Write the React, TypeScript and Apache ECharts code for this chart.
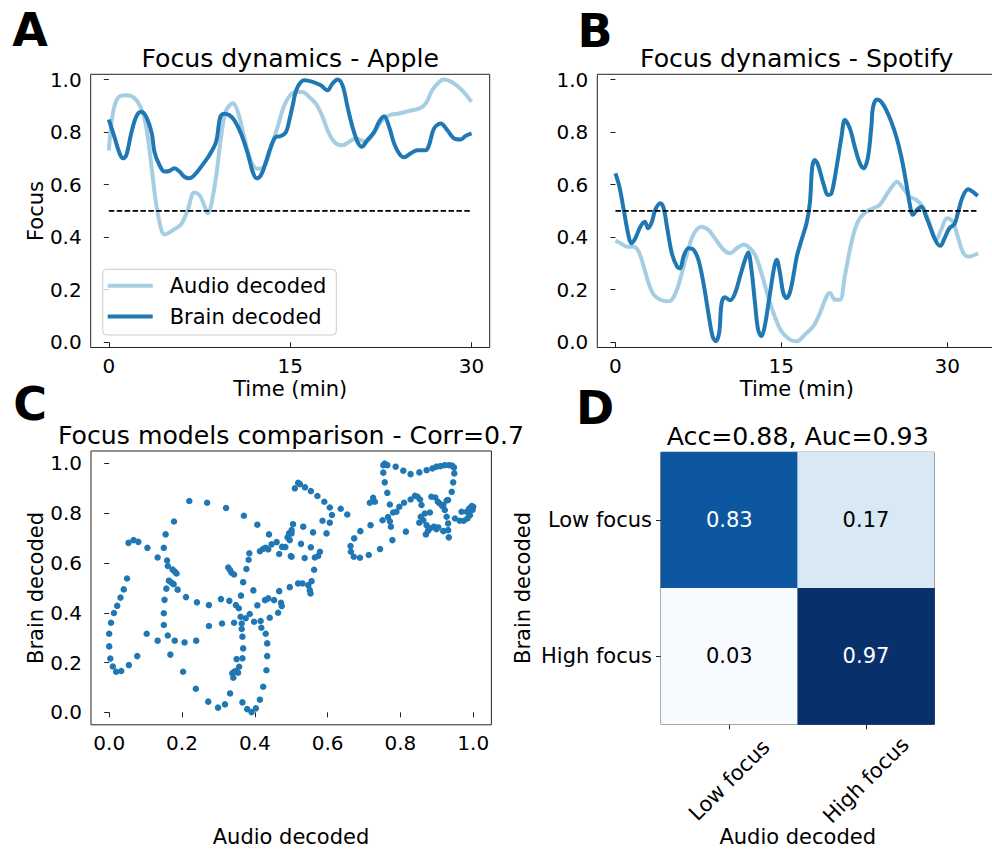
import React, { useEffect, useRef } from "react";
import * as echarts from "echarts";

const FONT = "DejaVu Sans";
const AUDIO_COLOR = "#a6cee3";
const BRAIN_COLOR = "#1f78b4";
const SCATTER_COLOR = "#1f77b4";
const SPINE = "#222222";

// Focus over time, [minute, focus]
const appleAudio: [number, number][] = [
  [0, 0.73], [0.33, 0.87], [0.75, 0.93], [1.43, 0.94], [2.1, 0.93], [2.67, 0.89], [3.09, 0.82],
  [3.5, 0.68], [3.9, 0.53], [4.33, 0.43], [4.6, 0.41], [5.4, 0.43], [6.0, 0.45], [6.5, 0.5],
  [7.07, 0.57], [7.5, 0.56], [7.9, 0.52], [8.2, 0.49], [8.45, 0.52], [8.87, 0.63], [9.28, 0.78],
  [9.69, 0.88], [10.24, 0.91], [10.65, 0.88], [11.2, 0.78], [11.76, 0.69], [12.3, 0.66],
  [12.86, 0.67], [13.4, 0.74], [13.96, 0.82], [14.5, 0.9], [15.0, 0.94], [15.47, 0.953],
  [16.02, 0.953], [16.57, 0.934], [17.12, 0.908], [17.68, 0.858], [18.2, 0.795], [18.78, 0.757],
  [19.33, 0.75], [19.88, 0.763], [20.43, 0.776], [21.25, 0.763], [21.8, 0.788], [22.5, 0.839],
  [23.2, 0.864], [24.0, 0.871], [24.8, 0.88], [25.7, 0.89], [26.2, 0.908], [26.76, 0.96],
  [27.3, 0.99], [27.7, 1.0], [28.4, 0.99], [29.2, 0.96], [30.0, 0.915],
];

const appleBrain: [number, number][] = [
  [0, 0.848], [0.47, 0.78], [0.88, 0.72], [1.16, 0.7], [1.43, 0.71], [1.85, 0.795], [2.26, 0.858],
  [2.67, 0.877], [3.09, 0.858], [3.55, 0.795], [3.77, 0.725], [4.18, 0.675], [4.6, 0.65],
  [5.0, 0.652], [5.42, 0.662], [5.84, 0.65], [6.25, 0.63], [6.66, 0.624], [7.07, 0.636],
  [7.63, 0.668], [8.31, 0.712], [8.87, 0.763], [9.22, 0.858], [9.55, 0.87], [9.97, 0.864],
  [10.38, 0.845], [10.93, 0.795], [11.48, 0.72], [11.89, 0.65], [12.22, 0.624], [12.58, 0.636],
  [13.0, 0.687], [13.4, 0.744], [13.82, 0.782], [14.23, 0.785], [14.65, 0.8], [14.95, 0.85],
  [15.2, 0.9], [15.55, 0.965], [16.16, 0.997], [16.85, 0.991], [17.53, 0.978], [18.08, 0.959],
  [18.5, 0.985], [18.91, 1.0], [19.33, 0.978], [19.74, 0.896], [20.15, 0.82], [20.57, 0.763],
  [20.92, 0.744], [21.39, 0.77], [21.94, 0.8], [22.35, 0.839], [22.77, 0.86], [23.18, 0.82],
  [23.59, 0.757], [24.0, 0.719], [24.41, 0.704], [24.97, 0.719], [25.52, 0.731], [26.2, 0.731],
  [26.48, 0.75], [26.9, 0.814], [27.45, 0.833], [28.0, 0.807], [28.55, 0.776], [29.1, 0.772],
  [29.5, 0.785], [30.0, 0.795],
];

const spotifyAudio: [number, number][] = [
  [0, 0.387], [0.45, 0.377], [1.05, 0.364], [1.65, 0.364], [2.1, 0.345], [2.55, 0.289], [3.0, 0.225],
  [3.46, 0.181], [4.06, 0.162], [4.66, 0.156], [5.1, 0.162], [5.56, 0.2], [6.0, 0.263],
  [6.46, 0.333], [6.9, 0.396], [7.36, 0.43], [7.8, 0.44], [8.4, 0.428], [9.0, 0.396],
  [9.77, 0.352], [10.37, 0.339], [10.97, 0.358], [11.57, 0.371], [12.0, 0.364], [12.62, 0.333],
  [13.2, 0.263], [13.8, 0.175], [14.4, 0.099], [15.0, 0.042], [15.78, 0.01], [16.4, 0.004],
  [17.13, 0.029], [17.9, 0.061], [18.5, 0.112], [19.1, 0.175], [19.4, 0.187], [19.84, 0.162],
  [20.3, 0.162], [20.74, 0.251], [21.2, 0.352], [21.64, 0.428], [22.1, 0.472], [22.7, 0.497],
  [23.3, 0.51], [23.9, 0.523], [24.5, 0.561], [25.1, 0.598], [25.46, 0.611], [26.0, 0.586],
  [26.6, 0.554], [27.2, 0.542], [27.8, 0.516], [28.4, 0.453], [29.0, 0.39], [29.45, 0.428],
  [30.0, 0.472], [30.5, 0.459], [30.96, 0.402], [31.4, 0.345], [31.9, 0.326], [32.8, 0.339],
];

const spotifyBrain: [number, number][] = [
  [0, 0.643], [0.36, 0.592], [0.75, 0.504], [1.2, 0.402], [1.44, 0.377], [1.8, 0.396], [2.25, 0.44],
  [2.65, 0.459], [2.95, 0.434], [3.3, 0.459], [3.6, 0.504], [4.06, 0.529], [4.36, 0.51],
  [4.66, 0.44], [5.1, 0.339], [5.56, 0.289], [5.86, 0.282], [6.16, 0.326], [6.6, 0.358],
  [7.06, 0.352], [7.5, 0.314], [7.96, 0.225], [8.4, 0.112], [8.78, 0.023], [9.08, 0.004],
  [9.38, 0.036], [9.6, 0.149], [9.9, 0.171], [10.37, 0.16], [10.82, 0.187], [11.27, 0.251],
  [11.72, 0.314], [12.0, 0.342], [12.3, 0.276], [12.62, 0.149], [12.9, 0.048], [13.2, 0.023],
  [13.5, 0.061], [13.98, 0.187], [14.37, 0.289], [14.58, 0.314], [14.88, 0.263], [15.18, 0.187],
  [15.48, 0.168], [15.78, 0.19], [16.08, 0.25], [16.4, 0.326], [16.83, 0.39], [17.28, 0.453],
  [17.58, 0.529], [17.8, 0.668], [18.03, 0.694], [18.33, 0.674], [18.8, 0.605], [19.24, 0.561],
  [19.54, 0.567], [20.0, 0.668], [20.44, 0.782], [20.74, 0.846], [21.2, 0.814], [21.64, 0.744],
  [22.1, 0.681], [22.45, 0.662], [22.84, 0.706], [23.14, 0.82], [23.3, 0.896], [23.65, 0.924],
  [24.04, 0.915], [24.5, 0.883], [24.95, 0.839], [25.4, 0.782], [25.85, 0.706], [26.3, 0.605],
  [26.6, 0.529], [26.9, 0.485], [27.26, 0.504], [27.65, 0.516], [28.1, 0.478], [28.55, 0.428],
  [29.0, 0.383], [29.37, 0.367], [29.76, 0.396], [30.2, 0.434], [30.66, 0.45], [30.96, 0.491],
  [31.4, 0.554], [31.9, 0.582], [32.3, 0.573], [32.76, 0.557],
];

const focusThreshold = 0.5;
const appleDuration = 30;
const spotifyDuration = 32.8;

const timeTicks = [0, 15, 30];
const focusTicks = [0, 0.2, 0.4, 0.6, 0.8, 1.0];
const comparisonTicks = [0, 0.2, 0.4, 0.6, 0.8, 1.0];

// Model comparison, [audio decoded, brain decoded]
const focusPairs: [number, number][] = [
  [0.22, 0.849], [0.269, 0.842], [0.321, 0.821], [0.37, 0.79], [0.407, 0.754], [0.439, 0.715],
  [0.178, 0.767], [0.155, 0.715], [0.053, 0.681], [0.067, 0.692], [0.08, 0.685], [0.105, 0.661],
  [0.15, 0.661], [0.133, 0.622], [0.159, 0.61], [0.161, 0.588], [0.174, 0.574], [0.18, 0.566],
  [0.185, 0.558], [0.049, 0.538], [0.04, 0.494], [0.031, 0.461], [0.022, 0.428], [0.013, 0.399],
  [0.005, 0.36], [0.0, 0.316], [0.0, 0.265], [0.003, 0.216], [0.01, 0.184], [0.019, 0.163],
  [0.033, 0.166], [0.054, 0.19], [0.077, 0.226], [0.103, 0.316], [0.133, 0.288], [0.161, 0.309],
  [0.18, 0.288], [0.207, 0.281], [0.239, 0.288], [0.168, 0.232], [0.203, 0.163], [0.238, 0.095],
  [0.272, 0.043], [0.299, 0.019], [0.318, 0.032], [0.332, 0.076], [0.366, 0.04], [0.379, 0.013],
  [0.391, 0.001], [0.403, 0.016], [0.414, 0.051], [0.423, 0.103], [0.432, 0.169], [0.434, 0.226],
  [0.434, 0.277], [0.43, 0.316], [0.418, 0.34], [0.416, 0.367], [0.398, 0.364], [0.386, 0.395],
  [0.375, 0.378], [0.364, 0.357], [0.361, 0.384], [0.364, 0.335], [0.366, 0.304], [0.368, 0.257],
  [0.366, 0.217], [0.35, 0.214], [0.357, 0.183], [0.343, 0.163], [0.338, 0.157], [0.341, 0.139],
  [0.354, 0.159], [0.348, 0.166], [0.348, 0.431], [0.356, 0.418], [0.343, 0.36], [0.31, 0.357],
  [0.274, 0.347], [0.274, 0.431], [0.241, 0.442], [0.211, 0.463], [0.188, 0.493], [0.157, 0.497],
  [0.152, 0.452], [0.15, 0.398], [0.15, 0.351], [0.164, 0.529], [0.171, 0.521], [0.177, 0.515],
  [0.307, 0.455], [0.33, 0.448], [0.362, 0.469], [0.368, 0.523], [0.396, 0.49], [0.407, 0.43],
  [0.428, 0.451], [0.437, 0.458], [0.453, 0.451], [0.472, 0.44], [0.474, 0.427], [0.464, 0.4],
  [0.441, 0.38], [0.467, 0.487], [0.496, 0.503], [0.327, 0.582], [0.332, 0.572], [0.336, 0.561],
  [0.343, 0.554], [0.377, 0.576], [0.383, 0.613], [0.385, 0.639], [0.414, 0.647], [0.423, 0.657],
  [0.43, 0.661], [0.437, 0.655], [0.446, 0.675], [0.46, 0.684], [0.475, 0.665], [0.484, 0.664],
  [0.49, 0.703], [0.494, 0.719], [0.501, 0.732], [0.505, 0.756], [0.499, 0.628], [0.467, 0.636],
  [0.51, 0.9], [0.519, 0.922], [0.524, 0.917], [0.538, 0.904], [0.554, 0.889], [0.572, 0.869],
  [0.591, 0.846], [0.606, 0.823], [0.612, 0.793], [0.606, 0.762], [0.586, 0.77], [0.597, 0.719],
  [0.56, 0.723], [0.533, 0.746], [0.501, 0.719], [0.496, 0.692], [0.527, 0.677], [0.554, 0.663],
  [0.579, 0.645], [0.574, 0.628], [0.565, 0.622], [0.537, 0.62], [0.501, 0.625], [0.636, 0.818],
  [0.654, 0.795], [0.563, 0.573], [0.556, 0.527], [0.547, 0.511], [0.531, 0.518], [0.519, 0.518],
  [0.551, 0.491], [0.553, 0.478], [0.716, 0.842], [0.725, 0.862], [0.73, 0.846], [0.69, 0.728],
  [0.673, 0.699], [0.663, 0.668], [0.664, 0.645], [0.672, 0.625], [0.689, 0.621], [0.713, 0.632],
  [0.744, 0.656], [0.778, 0.692], [0.815, 0.726], [0.718, 0.752], [0.751, 0.772], [0.766, 0.785],
  [0.771, 0.768], [0.774, 0.746], [0.78, 0.803], [0.789, 0.806], [0.797, 0.826], [0.81, 0.842],
  [0.828, 0.855], [0.84, 0.87], [0.847, 0.866], [0.854, 0.855], [0.858, 0.833], [0.856, 0.786],
  [0.852, 0.762], [0.863, 0.772], [0.867, 0.799], [0.872, 0.752], [0.87, 0.715], [0.876, 0.73],
  [0.881, 0.739], [0.892, 0.746], [0.899, 0.736], [0.904, 0.743], [0.918, 0.728], [0.931, 0.732],
  [0.933, 0.703], [0.931, 0.759], [0.927, 0.786], [0.922, 0.813], [0.915, 0.829], [0.903, 0.846],
  [0.885, 0.866], [0.896, 0.863], [0.908, 0.839], [0.918, 0.833], [0.927, 0.851], [0.881, 0.803],
  [0.95, 0.779], [0.963, 0.77], [0.974, 0.77], [0.984, 0.779], [0.991, 0.792], [0.998, 0.813],
  [1.0, 0.826], [0.996, 0.829], [0.989, 0.819], [0.982, 0.806], [0.968, 0.806], [0.753, 0.993],
  [0.757, 1.0], [0.764, 0.993], [0.753, 0.963], [0.757, 0.924], [0.764, 0.882], [0.771, 0.835],
  [0.787, 0.987], [0.808, 0.971], [0.828, 0.957], [0.852, 0.964], [0.872, 0.973], [0.888, 0.98],
  [0.899, 0.987], [0.91, 0.989], [0.922, 0.993], [0.934, 0.993], [0.942, 0.991], [0.947, 0.984],
  [0.948, 0.96], [0.945, 0.924], [0.941, 0.886], [0.931, 0.853],
];
const correlation = 0.7;

// Confusion matrix: rows = brain decoded, columns = audio decoded
const focusClasses = ["Low focus", "High focus"];
const confusionRows = [
  [0.83, 0.17],
  [0.03, 0.97],
];
const accuracy = 0.88;
const auc = 0.93;

const BLUES = ["#f7fbff", "#deebf7", "#c6dbef", "#9ecae1", "#6baed6", "#4292c6", "#2171b5", "#08519c", "#08306b"];

const text = (content: string, x: number, y: number, size: number, extra: any = {}) => ({
  type: "text",
  x,
  y,
  rotation: extra.rotation || 0,
  silent: true,
  style: {
    text: content,
    fontSize: size,
    fontFamily: FONT,
    fontWeight: extra.bold ? "bold" : "normal",
    fill: "#000",
    align: "center",
    verticalAlign: "middle",
  },
});

const valueAxis = (
  gridIndex: number,
  min: number,
  max: number,
  ticks: number[],
  decimals: number,
  margin: number
) => ({
  type: "value",
  gridIndex,
  min,
  max,
  axisLine: { show: false },
  splitLine: { show: false },
  axisTick: { show: true, length: 5, customValues: ticks, lineStyle: { color: SPINE, width: 1 } },
  axisLabel: {
    customValues: ticks,
    formatter: (v: number) => v.toFixed(decimals),
    fontSize: 20,
    fontFamily: FONT,
    color: "#000",
    margin,
  },
});

const gridBox = (left: number, top: number, width: number, height: number) => ({
  left,
  top,
  width,
  height,
  show: true,
  borderColor: SPINE,
  borderWidth: 1,
  backgroundColor: "transparent",
  containLabel: false,
  outerBoundsMode: "none",
});

const timeLines = (axis: number, audio: [number, number][], brain: [number, number][], duration: number) => [
  {
    type: "line",
    name: "Audio decoded",
    xAxisIndex: axis,
    yAxisIndex: axis,
    data: audio,
    smooth: 0.35,
    showSymbol: false,
    color: AUDIO_COLOR,
    lineStyle: { width: 4, color: AUDIO_COLOR },
    z: 2,
  },
  {
    type: "line",
    name: "Brain decoded",
    xAxisIndex: axis,
    yAxisIndex: axis,
    data: brain,
    smooth: 0.35,
    showSymbol: false,
    color: BRAIN_COLOR,
    lineStyle: { width: 4, color: BRAIN_COLOR },
    z: 3,
  },
  {
    type: "line",
    name: "threshold",
    xAxisIndex: axis,
    yAxisIndex: axis,
    data: [
      [0, focusThreshold],
      [duration, focusThreshold],
    ],
    showSymbol: false,
    color: "#000",
    lineStyle: { width: 1.6, color: "#000", type: [5.5, 2.4] },
    z: 4,
  },
];

function buildOption() {
  const flat = confusionRows.flat();
  const lo = Math.min(...flat);
  const hi = Math.max(...flat);
  const heatData: any[] = [];
  confusionRows.forEach((row, r) =>
    row.forEach((v, c) =>
      heatData.push({
        value: [c, r, v],
        label: { color: v > (hi + lo) / 2 ? "#ffffff" : "#000000" },
      })
    )
  );

  return {
    animation: false,
    backgroundColor: "#ffffff",
    grid: [
      gridBox(90.7, 74.3, 399, 273.2),
      gridBox(597.3, 74.3, 399, 273.2),
      gridBox(91, 451, 400.4, 273.8),
      gridBox(661, 452.3, 273.3, 272),
    ],
    xAxis: [
      valueAxis(0, -1.5, 31.5, timeTicks, 0, 8),
      valueAxis(1, -1.64, 34.44, timeTicks, 0, 8),
      valueAxis(2, -0.05, 1.05, comparisonTicks, 1, 8),
      {
        type: "category",
        gridIndex: 3,
        data: focusClasses,
        axisLine: { show: false },
        splitLine: { show: false },
        axisTick: { show: true, alignWithLabel: true, length: 5, lineStyle: { color: SPINE } },
        axisLabel: {
          rotate: 45,
          align: "center",
          verticalAlign: "middle",
          margin: 56,
          fontSize: 21,
          fontFamily: FONT,
          color: "#000",
          interval: 0,
        },
      },
    ],
    yAxis: [
      valueAxis(0, -0.02, 1.02, focusTicks, 1, 9),
      valueAxis(1, -0.02, 1.02, focusTicks, 1, 9),
      valueAxis(2, -0.05, 1.05, comparisonTicks, 1, 9),
      {
        type: "category",
        gridIndex: 3,
        data: focusClasses,
        inverse: true,
        axisLine: { show: false },
        splitLine: { show: false },
        axisTick: { show: true, alignWithLabel: true, length: 5, lineStyle: { color: SPINE } },
        axisLabel: { margin: 9, fontSize: 21, fontFamily: FONT, color: "#000", interval: 0 },
      },
    ],
    legend: {
      data: [
        { name: "Audio decoded", icon: "rect" },
        { name: "Brain decoded", icon: "rect" },
      ],
      orient: "vertical",
      left: 102.7,
      top: 269.3,
      itemWidth: 45,
      itemHeight: 4,
      itemGap: 9.7,
      padding: [6, 10, 8, 5],
      borderColor: "#cccccc",
      borderWidth: 1,
      borderRadius: 4,
      backgroundColor: "rgba(255,255,255,0.8)",
      selectedMode: false,
      textStyle: { fontSize: 21, fontFamily: FONT, color: "#000", padding: [0, 0, 0, 12] },
    },
    visualMap: {
      show: false,
      type: "continuous",
      seriesIndex: 7,
      dimension: 2,
      min: lo,
      max: hi,
      inRange: { color: BLUES },
    },
    series: [
      ...timeLines(0, appleAudio, appleBrain, appleDuration),
      ...timeLines(1, spotifyAudio, spotifyBrain, spotifyDuration),
      {
        type: "scatter",
        xAxisIndex: 2,
        yAxisIndex: 2,
        data: focusPairs,
        symbolSize: 6.5,
        itemStyle: { color: SCATTER_COLOR, opacity: 1 },
      },
      {
        type: "heatmap",
        xAxisIndex: 3,
        yAxisIndex: 3,
        data: heatData,
        itemStyle: { borderWidth: 0 },
        label: {
          show: true,
          formatter: (p: any) => p.value[2].toFixed(2),
          fontSize: 21,
          fontFamily: FONT,
        },
        emphasis: { disabled: true },
      },
    ],
    graphic: [
      text("A", 30, 30, 46, { bold: true }),
      text("B", 595, 31, 46, { bold: true }),
      text("C", 30, 404, 46, { bold: true }),
      text("D", 595, 408, 46, { bold: true }),
      text("Focus dynamics - Apple", 290.2, 58, 25.2),
      text("Focus dynamics - Spotify", 796.8, 58, 25.2),
      text(`Focus models comparison - Corr=${correlation}`, 291, 435, 25.2),
      text(`Acc=${accuracy.toFixed(2)}, Auc=${auc.toFixed(2)}`, 797.7, 436, 25.2),
      text("Focus", 35.5, 211, 21, { rotation: Math.PI / 2 }),
      text("Time (min)", 290.2, 389, 21),
      text("Time (min)", 796.8, 389, 21),
      text("Brain decoded", 36, 588, 21, { rotation: Math.PI / 2 }),
      text("Audio decoded", 291, 837, 21),
      text("Brain decoded", 522.5, 588, 21, { rotation: Math.PI / 2 }),
      text("Audio decoded", 797.7, 837, 21),
    ],
  };
}

export default function App() {
  const ref = useRef<HTMLDivElement>(null);
  useEffect(() => {
    if (!ref.current) return;
    const chart = echarts.init(ref.current, null, { renderer: "svg" });
    chart.setOption(buildOption() as any);
    return () => chart.dispose();
  }, []);
  return (
    <div
      ref={ref}
      style={{ position: "absolute", left: 0, top: 0, width: 992, height: 850, background: "#ffffff" }}
    />
  );
}
